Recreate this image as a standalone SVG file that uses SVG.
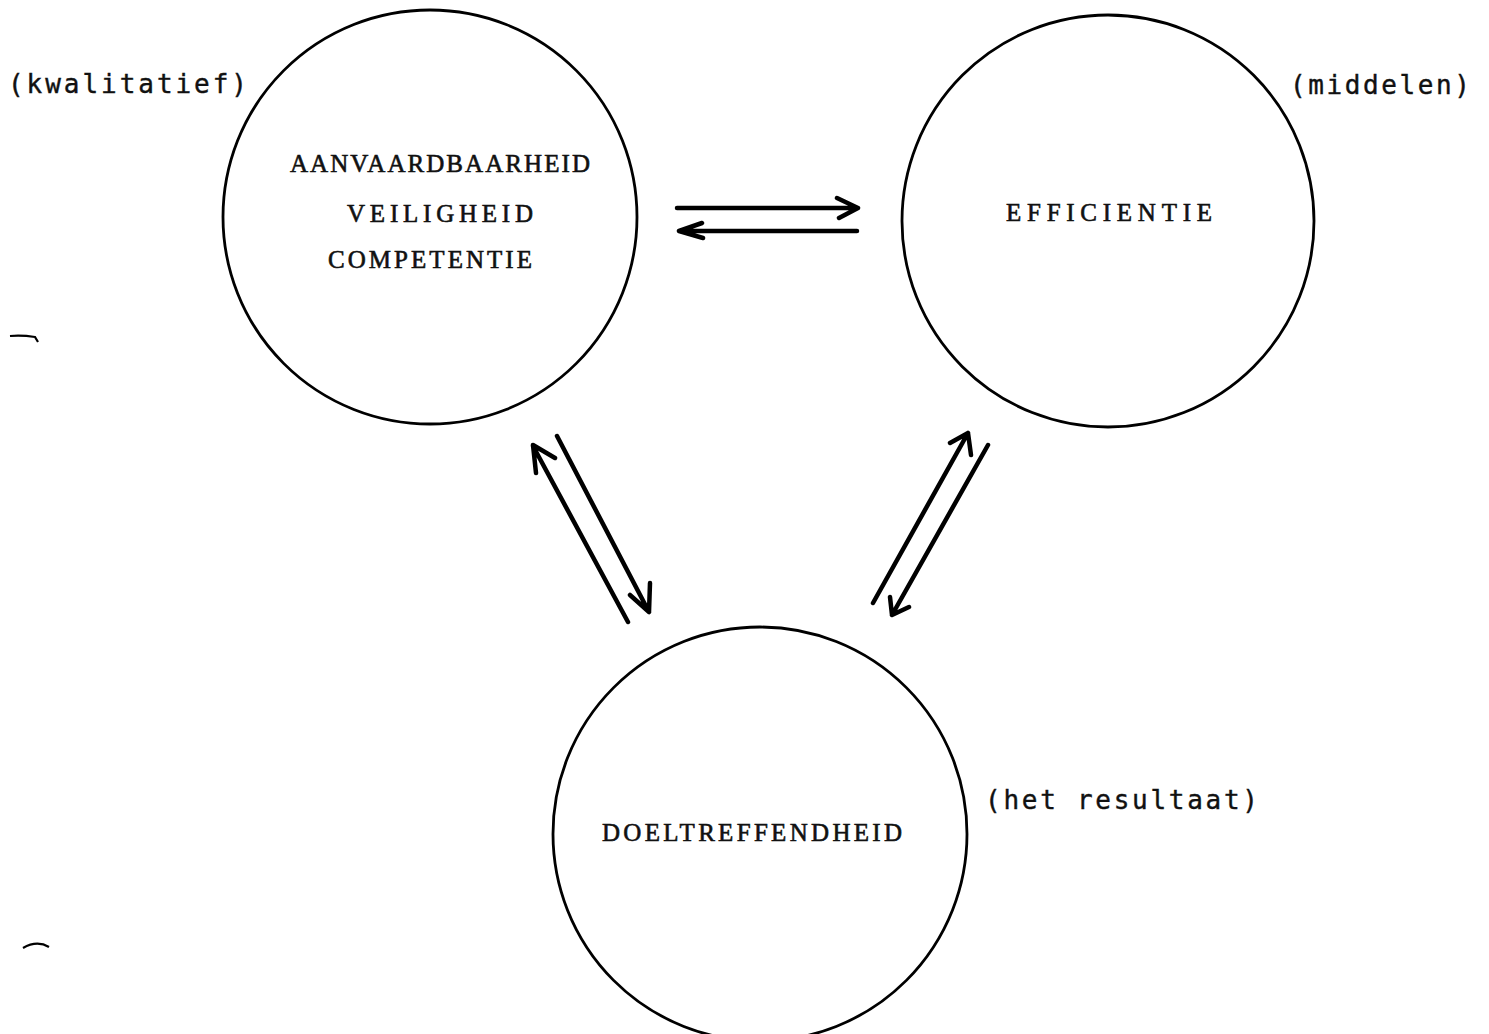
<svg xmlns="http://www.w3.org/2000/svg" width="1489" height="1034" viewBox="0 0 1489 1034">
<style>
.circ{fill:none;stroke:#000;stroke-width:2.8}
.cap{font-family:"Liberation Serif","Times New Roman",serif;font-size:25px;fill:#111;stroke:#111;stroke-width:0.6}
.lbl{font-family:"DejaVu Sans Mono","Liberation Mono",monospace;font-size:26px;fill:#111;stroke:#111;stroke-width:0.4}
.arr{fill:none;stroke:#000;stroke-width:4.5;stroke-linecap:round;stroke-linejoin:round}
.mark{fill:none;stroke:#000;stroke-width:2.2}
</style>
<rect width="1489" height="1034" fill="#fff"/>
<g id="node-kwalitatief">
<circle class="circ" cx="430" cy="217" r="207"/>
<text class="cap" x="290" y="172" textLength="300" lengthAdjust="spacing">AANVAARDBAARHEID</text>
<text class="cap" x="347" y="222" textLength="186" lengthAdjust="spacing">VEILIGHEID</text>
<text class="cap" x="328" y="268" textLength="204" lengthAdjust="spacing">COMPETENTIE</text>
</g>
<g id="node-efficientie">
<circle class="circ" cx="1108" cy="221" r="206"/>
<text class="cap" x="1006" y="221" textLength="206" lengthAdjust="spacing">EFFICIENTIE</text>
</g>
<g id="node-doeltreffendheid">
<circle class="circ" cx="760" cy="834" r="207"/>
<text class="cap" x="602" y="841" textLength="300" lengthAdjust="spacing">DOELTREFFENDHEID</text>
</g>
<g id="labels">
<text class="lbl" x="8" y="93" textLength="239" lengthAdjust="spacing">(kwalitatief)</text>
<text class="lbl" x="1290" y="94" textLength="180" lengthAdjust="spacing">(middelen)</text>
<text class="lbl" x="985" y="809" textLength="273" lengthAdjust="spacing">(het resultaat)</text>
</g>
<g id="connectors">
<path class="arr" d="M677 208 L858 208 M837 198 L858 208 L839 218"/>
<path class="arr" d="M857 231 L679 231 M702 223 L679 231 L703 238"/>
<path class="arr" d="M628 622 L533 446 M536 473 L533 445 L555 458"/>
<path class="arr" d="M557 436 L649 612 M630 595 L649 612 L650 583"/>
<path class="arr" d="M873 603 L968 433 M950 443 L968 433 L971 455"/>
<path class="arr" d="M988 445 L892 615 M890 597 L892 615 L909 607"/>
</g>
<g id="marks">
<path class="mark" d="M10 336 Q22 335 35 337 L38 342"/>
<path class="mark" d="M23 948 Q37 940 49 947"/>
</g>
</svg>
